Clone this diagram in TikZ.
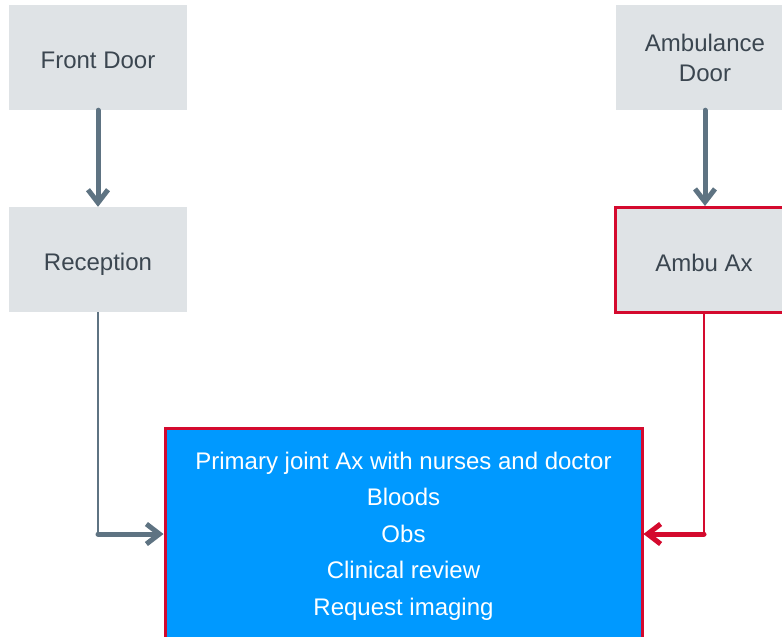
\documentclass[tikz,border=0pt]{standalone}
\usepackage{fontspec}
\setmainfont{Liberation Sans}
\usetikzlibrary{arrows.meta}
\definecolor{boxgray}{HTML}{DFE3E6}
\definecolor{inkgray}{HTML}{3B4650}
\definecolor{flowgray}{HTML}{5E7382}
\definecolor{alertred}{HTML}{D40A2E}
\definecolor{mainblue}{HTML}{0099FF}
\tikzset{
  stagebox/.style={fill=boxgray, text=inkgray, minimum width=178pt, minimum height=105pt,
    inner sep=0pt, align=center, text height=23pt, font=\fontsize{24}{30}\selectfont},
  twolinebox/.style={stagebox, text height={}, text depth=-5pt},
  flagbox/.style={stagebox, draw=alertred, line width=3pt},
  mainbox/.style={fill=mainblue, draw=alertred, line width=3pt, text=white,
    minimum width=477pt, minimum height=212pt, inner sep=0pt, align=center,
    text depth=1pt, font=\fontsize{24}{36.5}\selectfont},
  chevron/.style={-{Straight Barb[length=13pt,width=20pt]}, line cap=round, line join=round},
  bigflow/.style={chevron, draw=flowgray, line width=5pt},
  thinflow/.style={draw=flowgray, line width=2.5pt},
  redflow/.style={chevron, draw=alertred, line width=5pt},
  thinred/.style={draw=alertred, line width=2.5pt},
}
\begin{document}
\begin{tikzpicture}[x=1pt,y=-1pt]
  \useasboundingbox (0,0) rectangle (782,637);
  \clip (0,0) rectangle (782,637);
  \fill[white] (0,0) rectangle (782,637);

  % entry points and first contacts
  \node[stagebox] (front) at (98,57.5) {Front Door};
  \node[stagebox, text height=26.5pt] (recep) at (98,259.5) {Reception};
  \node[twolinebox] (ambdoor) at (705,57.5) {Ambulance\\Door};
  \node[flagbox] (ambax) at (704,260) {Ambu Ax};

  % joint assessment
  \node[mainbox] (main) at (403.5,534)
    {Primary joint Ax with nurses and doctor\\Bloods\\Obs\\Clinical review\\Request imaging};

  % walk-in route
  \draw[bigflow] (front.south) -- (recep.north);
  \coordinate (recepturn) at (recep.south |- main.west);
  \draw[thinflow] (recep.south) -- (recepturn);
  \draw[bigflow] (recepturn) -- (main.west);

  % ambulance route
  \draw[bigflow] (ambdoor.south) -- (ambdoor.south |- ambax.north);
  \coordinate (ambturn) at (ambax.south |- main.east);
  \draw[thinred] (ambax.south) -- (ambturn);
  \draw[redflow] (ambturn) -- (main.east);
\end{tikzpicture}
\end{document}
